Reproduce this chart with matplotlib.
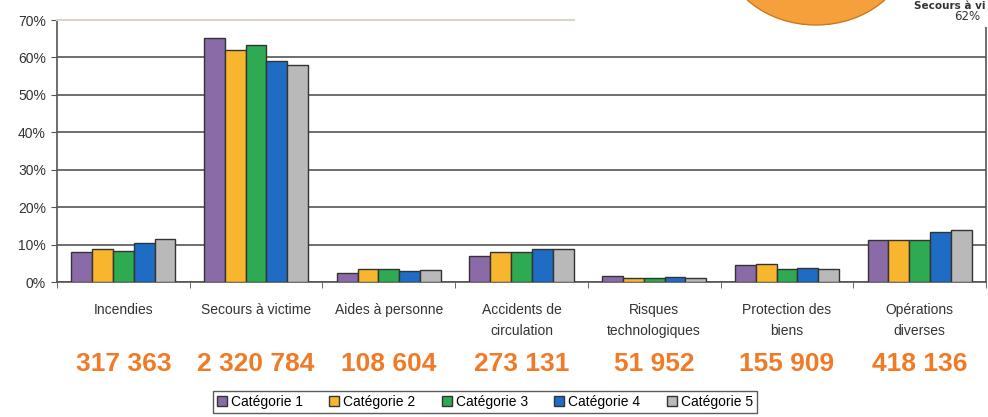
import matplotlib
matplotlib.use("Agg")
import matplotlib.pyplot as plt
import matplotlib.transforms as mtransforms
from matplotlib.patches import Ellipse, Rectangle
import numpy as np

# Données
categories = ["Incendies", "Secours à victime", "Aides à personne", "Accidents de\ncirculation",
              "Risques\ntechnologiques", "Protection des\nbiens", "Opérations\ndiverses"]
totaux = ["317 363", "2 320 784", "108 604", "273 131", "51 952", "155 909", "418 136"]
series = ["Catégorie 1", "Catégorie 2", "Catégorie 3", "Catégorie 4", "Catégorie 5"]
cat1 = [8.0, 65.1, 2.4, 6.9, 1.6, 4.5, 11.2]
cat2 = [8.9, 61.9, 3.6, 7.9, 1.1, 4.7, 11.2]
cat3 = [8.3, 63.2, 3.6, 7.9, 1.1, 3.4, 11.2]
cat4 = [10.4, 59.0, 2.9, 8.7, 1.3, 3.8, 13.4]
cat5 = [11.5, 57.9, 3.1, 8.7, 1.0, 3.5, 13.8]
colors = ["#8A6BA8", "#F8B62E", "#2EAA52", "#1F6CC4", "#B9B9B9"]

sans = ["Liberation Sans", "DejaVu Sans"]

fig = plt.figure(figsize=(9.88, 4.17), dpi=100)
ax = fig.add_axes([57 / 988, 1 - 282 / 417, 929 / 988, 262 / 417])

x = np.arange(len(categories))
w = 0.157
for i, (vals, name, c) in enumerate(zip([cat1, cat2, cat3, cat4, cat5], series, colors)):
    ax.bar(x + (i - 2) * w, np.array(vals) / 100, width=w, color=c, edgecolor="#333333",
           linewidth=1.0, label=name, zorder=3)

ax.set_xlim(-0.5, len(categories) - 0.5)
ax.set_ylim(0, 0.7)
ax.set_yticks(np.arange(0, 0.71, 0.1))
ax.set_yticklabels([f"{int(round(v * 100))}%" for v in np.arange(0, 0.71, 0.1)],
                   fontsize=10, color="#333333", family=sans)
ax.yaxis.grid(True, color="#555555", linewidth=1.2, zorder=0)
ax.set_axisbelow(True)

ax.set_xticks(x)
ax.set_xticklabels(categories, fontsize=10, color="#333333", family=sans, linespacing=1.65)
ax.tick_params(axis="x", which="major", length=0, pad=15)
ax.set_xticks(np.arange(-0.5, len(categories), 1), minor=True)
ax.tick_params(axis="x", which="minor", length=4, color="#555555", direction="out")
ax.tick_params(axis="y", length=4, color="#555555", pad=4)

for s in ["left", "bottom", "right"]:
    ax.spines[s].set_color("#555555")
    ax.spines[s].set_linewidth(1.2)
ax.spines["top"].set_color("#DDD4C8")
ax.spines["top"].set_linewidth(1.5)

# Totaux en orange sous les catégories
trans = mtransforms.blended_transform_factory(ax.transData, fig.transFigure)
for xi, t in zip(x, totaux):
    ax.text(xi, 1 - 364 / 417, t, transform=trans, ha="center", va="center",
            fontsize=19, fontweight="bold", color="#F07A26", family=sans)

leg = ax.legend(loc="center", bbox_to_anchor=(485 / 988, 1 - 402 / 417),
                bbox_transform=fig.transFigure, ncol=5, frameon=True, fancybox=False,
                handlelength=0.7, handleheight=0.7, handletextpad=0.3,
                columnspacing=1.9, borderpad=0.3, prop={"family": sans, "size": 10})
leg.get_frame().set_edgecolor("#333333")
leg.get_frame().set_linewidth(1.0)

# Fragment du camembert en haut à droite
fig.patches.append(Rectangle((575 / 988, 1 - 27 / 417), 413 / 988, 27 / 417,
                             transform=fig.transFigure, facecolor="white", edgecolor="none", zorder=5))
fig.patches.append(Ellipse((816 / 988, 1 - (-50) / 417), 184 / 988, 150 / 417,
                           transform=fig.transFigure, facecolor="#F5A03A", edgecolor="#C97A20",
                           linewidth=1, zorder=6))
fig.text(985 / 988, 1 - 1 / 417, "Secours à vi", ha="right", va="top", fontsize=7.5,
         fontweight="bold", color="#333333", zorder=7)
fig.text(980 / 988, 1 - 17 / 417, "62%", ha="right", va="center", fontsize=8.5,
         color="#333333", zorder=7)

fig.savefig("out.png", dpi=100)
